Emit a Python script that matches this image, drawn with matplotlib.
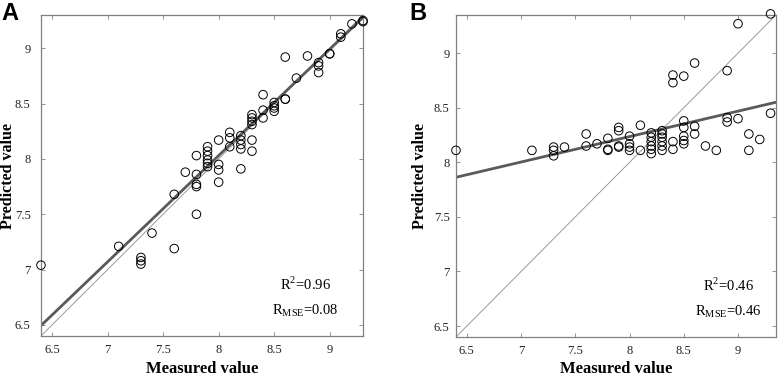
import numpy as np
import matplotlib
matplotlib.use('Agg')
import matplotlib.pyplot as plt

plt.rcParams['font.family'] = ['Liberation Serif', 'DejaVu Serif']
plt.rcParams['mathtext.fontset'] = 'custom'
plt.rcParams['mathtext.rm'] = 'Liberation Serif'

# Panel A: measured vs predicted
a_measured = [6.4, 7.1, 7.3, 7.3, 7.3, 7.4, 7.6, 7.6, 7.7,
              7.8, 7.8, 7.8, 7.8, 7.8,
              7.9, 7.9, 7.9, 7.9, 7.9, 7.9,
              8.0, 8.0, 8.0, 8.0, 8.1, 8.1, 8.1,
              8.2, 8.2, 8.2, 8.2, 8.2,
              8.3, 8.3, 8.3, 8.3, 8.3, 8.3,
              8.4, 8.4, 8.4, 8.5, 8.5, 8.5, 8.5,
              8.6, 8.6, 8.6, 8.7, 8.8, 8.9, 8.9, 8.9,
              9.0, 9.0, 9.1, 9.1, 9.2, 9.3, 9.3]
a_predicted = [7.04, 7.21, 7.11, 7.08, 7.05, 7.33, 7.68, 7.19, 7.88,
               8.03, 7.86, 7.77, 7.75, 7.50,
               8.11, 8.07, 8.03, 7.99, 7.96, 7.93,
               8.17, 7.95, 7.90, 7.79, 8.24, 8.19, 8.11,
               8.21, 8.17, 8.13, 8.09, 7.91,
               8.40, 8.37, 8.34, 8.31, 8.17, 8.07,
               8.58, 8.44, 8.37, 8.51, 8.48, 8.46, 8.43,
               8.92, 8.54, 8.54, 8.73, 8.93, 8.87, 8.84, 8.78,
               8.95, 8.95, 9.13, 9.10, 9.22, 9.25, 9.24]

# Panel B: measured vs predicted
b_measured = [6.4, 7.1, 7.3, 7.3, 7.3, 7.4, 7.6, 7.6, 7.7,
              7.8, 7.8, 7.8, 7.9, 7.9, 7.9, 7.9,
              8.0, 8.0, 8.0, 8.0, 8.1, 8.1,
              8.2, 8.2, 8.2, 8.2, 8.2, 8.2,
              8.3, 8.3, 8.3, 8.3, 8.3, 8.3,
              8.4, 8.4, 8.4, 8.4,
              8.5, 8.5, 8.5, 8.5, 8.5, 8.5,
              8.6, 8.6, 8.6, 8.7, 8.8, 8.9, 8.9, 8.9,
              9.0, 9.0, 9.1, 9.1, 9.2, 9.3, 9.3]
b_predicted = [8.11, 8.11, 8.14, 8.11, 8.06, 8.14, 8.26, 8.15, 8.17,
               8.22, 8.12, 8.11, 8.32, 8.29, 8.15, 8.14,
               8.24, 8.17, 8.14, 8.11, 8.34, 8.11,
               8.27, 8.23, 8.19, 8.15, 8.12, 8.08,
               8.29, 8.26, 8.23, 8.19, 8.15, 8.11,
               8.80, 8.73, 8.19, 8.12,
               8.79, 8.38, 8.32, 8.24, 8.20, 8.17,
               8.91, 8.33, 8.26, 8.15, 8.11, 8.84, 8.41, 8.37,
               9.27, 8.40, 8.26, 8.11, 8.21, 9.36, 8.45]

# fitted lines (slope, intercept) and stats
fit_a = (0.96, 0.35)
fit_b = (0.233, 6.372)
stats_a = ('0.96', '0.08')
stats_b = ('0.46', '0.46')
ticks = [6.5, 7, 7.5, 8, 8.5, 9]
tick_labels = ['6.5', '7', '7.5', '8', '8.5', '9']

fig = plt.figure(figsize=(7.82, 3.78), dpi=100)
ax_a = fig.add_axes([0.0524, 0.1111, 0.4118, 0.8492])
ax_b = fig.add_axes([0.5831, 0.1085, 0.4092, 0.8518])

panels = [(ax_a, a_measured, a_predicted, fit_a, stats_a, 9.3, 'A', 0.002, 7.5, 0.82, -0.078),
          (ax_b, b_measured, b_predicted, fit_b, stats_b, 9.35, 'B', 0.524, 4.5, 0.85, -0.086)]

for ax, xs, ys, fit, stats, hi, letter, lx, ypad, tx, ylx in panels:
    lo = 6.4
    # 1:1 reference line
    ax.plot([lo, hi], [lo, hi], color='#9a9a9a', lw=0.7, zorder=1)
    # regression line
    fx = np.array([lo, hi])
    ax.plot(fx, fit[0] * fx + fit[1], color='#5a5a5a', lw=2.0, zorder=2)
    ax.scatter(xs, ys, s=38, facecolors='none', edgecolors='black',
               linewidths=0.7, zorder=3, clip_on=False)

    ax.set_xlim(lo, hi)
    ax.set_ylim(lo, hi)
    ax.set_xticks(ticks)
    ax.set_xticklabels(tick_labels)
    ax.set_yticks(ticks)
    ax.set_yticklabels(tick_labels)
    ax.tick_params(direction='in', length=3, width=0.6, color='#808080',
                   top=True, right=True, labelsize=9, labelcolor='#222222')
    ax.tick_params(axis='x', pad=6)
    ax.tick_params(axis='y', pad=ypad)
    for sp in ax.spines.values():
        sp.set_color('#808080')
        sp.set_linewidth(0.9)

    ax.set_xlabel('Measured value', fontsize=12, fontweight='bold', labelpad=3)
    ax.set_ylabel('Predicted value', fontsize=11.5, fontweight='bold')
    ax.yaxis.set_label_coords(ylx, 0.5)

    # stats text
    ax.text(tx, 0.16, 'R$^2$=' + stats[0], transform=ax.transAxes,
            ha='center', va='center', fontsize=10.5)
    ax.text(tx, 0.08, 'R$_{\\mathrm{MSE}}$=' + stats[1], transform=ax.transAxes,
            ha='center', va='center', fontsize=10.5)

    fig.text(lx, 0.995, letter, fontsize=17, fontweight='bold',
             family='Liberation Sans', ha='left', va='top')

plt.savefig('out.png', dpi=100)
